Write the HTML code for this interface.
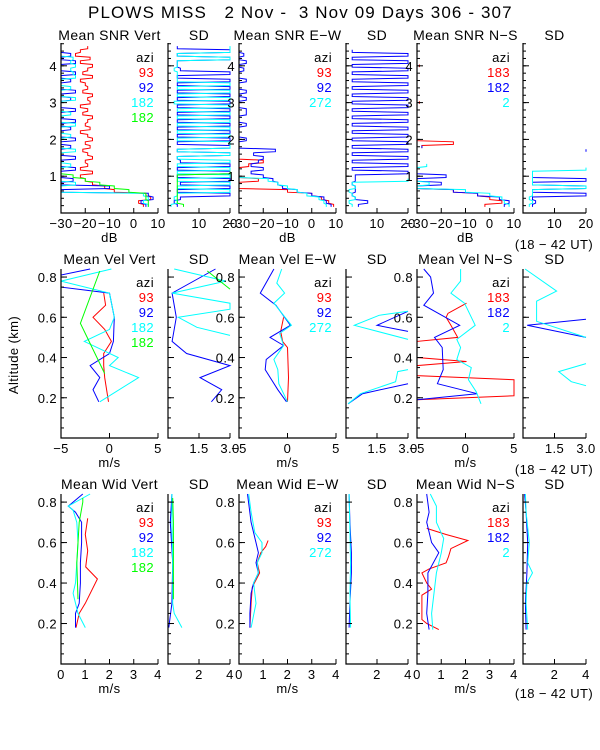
<!DOCTYPE html>
<html><head><meta charset="utf-8">
<style>
html,body{margin:0;padding:0;background:#fff;}
svg{display:block;font-family:"Liberation Sans",sans-serif;}
text{font-size:13px;fill:#000;letter-spacing:0.4px;}
</style></head>
<body>
<svg id="chart" width="600" height="750" viewBox="0 0 600 750">
<text x="88" y="18" textLength="424" lengthAdjust="spacing" style="font-size:17px;white-space:pre" xml:space="preserve">PLOWS MISS   2 Nov -  3 Nov 09 Days 306 - 307</text>
<text x="0" y="0" transform="translate(18,355) rotate(-90)" text-anchor="middle">Altitude (km)</text>
</svg>
<script>
// ---------- Row 1 : SNR (binned profiles, heights 0.2..4.5 step 0.1) ----------
const snrHeights = [0.2,0.3,0.4,0.5,0.6,0.7,0.8,0.9,1.0,1.1,1.2,1.3,1.4,1.5,1.6,1.7,1.8,1.9,2.0,2.1,2.2,2.3,2.4,2.5,2.6,2.7,2.8,2.9,3.0,3.1,3.2,3.3,3.4,3.5,3.6,3.7,3.8,3.9,4.0,4.1,4.2,4.3,4.4,4.5];
const snrVertRed  = [4,2,7,5,-8,-12,-17,-20,-22,-17,-22,-19,-20,-17,-19,-21,-18,-20,-17,-19,-22,-18,-20,-19,-17,-21,-19,-22,-18,-19,-17,-21,-19,-20,-22,-17,-21,-19,-17,-22,-18,-24,-22,-19];
const snrVertBlue = [5,3,8,6,-30,-10,-30,-25,-30,-30,-24,-30,-30,-24,-30,-30,-26,-30,-24,-30,-30,-26,-30,-24,-30,-30,-24,-30,-30,-26,-30,-24,-30,-30,-26,-30,-24,-30,-30,-24,-30,-26,-30,-30];
const snrVertCyan = [6,4,6,4,-30,-30,-24,-30,-30,-30,-30,-26,-30,-30,-30,-24,-30,-30,-30,-26,-30,-30,-24,-30,-30,-26,-30,-30,-30,-24,-30,-30,-26,-30,-30,-24,-25,-26,-24,-26,-25,-30,-30,-30];
const snrVertGreen= [6,6,5,5,-2,-8,-14,-20,-25,-30,null,null,null,null,null,null,null,null,null,null,null,null,null,null,null,null,null,null,null,null,null,null,null,null,null,null,null,null,null,null,null,null,null,null];
const sdVertRed   = [0,0,0,0,0,0,0,0,0,0,0,0,0,0,0,0,0,0,0,0,0,0,0,0,0,0,0,0,0,0,0,0,0,0,0,0,0,0,0,0,0,0,0,0];
const sdVertBlue  = [3,2,4,20,3,20,4,20,3,20,3,20,4,3,20,3,20,3,20,3,20,3,20,3,20,3,20,3,20,3,20,3,20,3,20,3,20,4,3,3,20,3,20,3];
const sdVertCyan  = [1,3,2,3,20,3,20,3,20,3,20,3,20,3,20,3,20,20,3,20,3,20,3,20,3,20,3,20,2,20,3,20,3,20,3,3,3,2,3,3,20,3,20,20];
const sdVertGreen = [5,3,3,3,3,3,3,3,3,20,null,null,null,null,null,null,null,null,null,null,null,null,null,null,null,null,null,null,null,null,null,null,null,null,null,null,null,null,null,null,null,null,null,null];
const snrEwRed    = [9,7,4,0,-10,-30,-30,-22,-30,-30,-30,-26,-20,-30,null,null,null,null,null,null,null,null,null,null,null,null,null,null,null,null,null,null,null,null,null,null,null,null,null,null,null,null,null,null];
const snrEwBlue   = [8,6,5,0,-6,-12,-14,-16,-20,-25,-20,-25,-22,-20,-24,-15,-30,-30,-27,-30,-30,-30,-27,-30,-30,-27,-27,-30,-30,-27,-30,-27,-30,-30,-27,-30,-30,-28,-30,-27,-30,-28,-30,null];
const snrEwCyan   = [6,5,3,-2,-6,-10,-14,-18,-30,null,null,null,null,null,null,null,null,null,null,null,null,null,null,null,null,null,null,null,null,null,null,null,null,null,null,null,null,null,null,null,null,null,null,null];
const sdEwRed     = [0,0,0,0,0,0,0,0,0,0,0,0,0,0,0,0,0,0,0,0,0,0,0,0,0,0,0,0,0,0,0,0,0,0,0,0,0,0,0,0,0,0,0,null];
const sdEwBlue    = [4,7,3,2,3,3,2,3,3,20,2,20,2,20,2,20,2,20,2,20,2,20,2,20,2,20,2,20,2,20,2,20,2,20,2,20,2,20,2,20,2,20,2,null];
const sdEwCyan    = [2,1,3,2,1,3,2,20,null,null,null,null,null,null,null,null,null,null,null,null,null,null,null,null,null,null,null,null,null,null,null,null,null,null,null,null,null,null,null,null,null,null,null,null];
const snrNsRed    = [-2,5,0,-5,-15,-30,-30,-30,-30,-30,null,null,null,null,null,null,-28,-15,-30,null,null,null,null,null,null,null,null,null,-29,null,null,null,null,null,null,null,null,null,-29,null,null,null,null,null];
const snrNsBlue   = [6,8,4,-5,-15,-30,-20,-30,-18,-30,null,null,null,null,null,null,-28,null,null,null,null,null,null,null,null,null,null,null,null,null,null,null,null,null,null,null,null,null,null,null,null,null,null,null];
const snrNsCyan   = [8,6,5,0,-10,-30,-25,-30,-30,-30,-30,-26,null,null,null,null,null,null,null,null,null,null,null,null,null,null,null,null,null,null,null,null,null,null,null,null,null,null,null,null,null,null,null,null];
const sdNsRed     = [0,0,0,0,0,0,0,0,0,0,0,0,0,0,0,0,0,0,0,0,0,0,0,0,0,0,0,0,0,0,0,0,0,0,0,0,0,0,0,0,0,0,null,null];
const sdNsBlue    = [3,4,3,20,3,20,3,20,3,null,null,null,null,null,null,20,null,null,null,null,null,null,null,null,null,null,null,null,null,null,null,null,null,null,null,null,null,null,null,null,null,null,null,null];
const sdNsCyan    = [2,3,2,3,3,20,3,3,3,3,20,null,null,null,null,null,null,null,null,null,null,null,null,null,null,null,null,null,null,null,null,null,null,null,null,null,null,null,null,null,null,null,null,null];

// ---------- Row 2 : Mean velocity ----------
const velVertRedH  = [0.18,0.24,0.30,0.36,0.42,0.48,0.54,0.60,0.66,0.72];
const velVertRedV  = [-0.1,-0.3,-0.5,-0.6,-0.6,0.2,-0.5,-1.7,-0.4,-0.6];
const velVertBlueH = [0.18,0.24,0.30,0.36,0.42,0.48,0.60,0.72,0.75,0.81,0.84];
const velVertBlueV = [-1.1,-1.7,-1.0,-2.0,0,0.4,0.5,0,-5,-5,-2];
const velVertCyanH = [0.18,0.30,0.36,0.40,0.48,0.54,0.60,0.72,0.78,0.84];
const velVertCyanV = [-1.0,3,0,0.9,-2.6,0,0.5,0,-5,0.2];
const velVertGreenH= [0.32,0.57,0.83];
const velVertGreenV= [-0.5,-3,-1];
const sdVelVertRedH = [0.18,0.72];
const sdVelVertRedV = [0,0];
const sdVelVertBlueH= [0.18,0.24,0.30,0.36,0.42,0.48,0.60,0.72,0.84];
const sdVelVertBlueV= [2.1,2.6,1.55,3,0.9,0.2,0.4,0.2,2.3];
const sdVelVertCyanH= [0.51,0.55,0.60,0.64,0.67,0.72,0.78,0.84];
const sdVelVertCyanV= [3,1.4,0.5,3,3,0.2,2.8,0.3];
const sdVelVertGreenH=[0.74,0.83];
const sdVelVertGreenV=[3,1.9];
const velEwRedH  = [0.18,0.30,0.45,0.48,0.53,0.60];
const velEwRedV  = [0,0.1,0,-0.5,-0.7,-0.4];
const velEwBlueH = [0.18,0.24,0.34,0.39,0.46,0.50,0.56,0.66,0.72,0.84];
const velEwBlueV = [-0.1,-1,-2.3,-2.2,-0.4,-1.8,0.3,-1.2,-2.8,-1.4];
const velEwCyanH = [0.18,0.27,0.34,0.39,0.46,0.52,0.56,0.67,0.72,0.77,0.84];
const velEwCyanV = [0,-0.9,-1,-1.4,-0.4,-0.8,0.4,-1.4,-0.3,-1.1,-0.6];
const sdVelEwRedH  = [0.18,0.61];
const sdVelEwRedV  = [0,0];
const sdVelEwBlueH = [0.17,0.22,0.27,null,0.53,0.56,0.63];
const sdVelEwBlueV = [0.1,0.8,3,null,3,1.5,3];
const sdVelEwCyanH = [0.17,0.22,0.28,0.33,0.34,null,0.49,0.56,0.61,0.63];
const sdVelEwCyanV = [0.1,0.7,2.4,2.5,3,null,3,0.4,1.6,3];
const velNsRedH  = [0.19,0.21,0.29,0.31,0.36,0.38,0.40,0.48,0.50,0.56,0.60,0.62,0.67];
const velNsRedV  = [-5,5,5,-5,-5,0.1,-5,-5,-0.8,-1.5,-2,-1.8,0.1];
const velNsBlueH = [0.19,0.22,0.27,0.34,0.45,0.50,0.56,0.66,0.72,0.80,0.84];
const velNsBlueV = [-5,1.2,-2.9,-2.3,-2.4,-3.2,-0.6,-4.3,-3.3,-3.6,-4.3];
const velNsCyanH = [0.17,0.23,0.29,0.35,0.39,0.45,0.49,0.56,0.67,0.72,0.78,0.84];
const velNsCyanV = [1.6,1.1,0.3,0.6,-0.9,-0.5,-0.9,1,-0.1,-1.5,-0.5,-0.5];
const sdVelNsRedH  = [0.17,0.67];
const sdVelNsRedV  = [0,0];
const sdVelNsBlueH = [0.50,0.56,0.59];
const sdVelNsBlueV = [3,0.2,3];
const sdVelNsCyanH = [0.26,0.28,0.33,0.37,null,0.50,0.58,0.68,0.73,0.84];
const sdVelNsCyanV = [3,2.3,1.7,3,null,3,0.65,0.65,1.6,0.1];

// ---------- Row 3 : Mean width ----------
const widVertRedH  = [0.18,0.25,0.30,0.42,0.48,0.56,0.64,0.72];
const widVertRedV  = [0.62,0.75,1.0,1.5,1.02,1.1,1.0,1.1];
const widVertBlueH = [0.18,0.25,0.30,0.40,0.50,0.60,0.70,0.75,0.78,0.84];
const widVertBlueV = [0.6,0.6,0.75,0.8,0.8,0.85,0.85,0.6,0.3,0.9];
const widVertCyanH = [0.18,0.25,0.30,0.35,0.40,0.50,0.60,0.70,0.76,0.78,0.84];
const widVertCyanV = [1.0,0.7,0.6,0.5,0.6,0.65,0.7,0.65,0.5,0.3,1.2];
const widVertGreenH= [0.32,0.50,0.60,0.70,0.80,0.82];
const widVertGreenV= [0.7,0.65,0.7,0.75,0.9,0.9];
const sdWidVertRedH  = [0.18,0.72];
const sdWidVertRedV  = [0,0];
const sdWidVertBlueH = [0.18,0.30,0.50,0.70,0.84];
const sdWidVertBlueV = [0.05,0.25,0.3,0.15,0.25];
const sdWidVertCyanH = [0.18,0.25,0.30,0.50,0.70,0.84];
const sdWidVertCyanV = [0.9,0.4,0.3,0.3,0.25,0.25];
const sdWidVertGreenH= [0.32,0.70,0.82];
const sdWidVertGreenV= [0.35,0.35,0.3];
const widEwRedH  = [0.18,0.30,0.38,0.45,0.50,0.55,0.58,0.61];
const widEwRedV  = [0.45,0.5,0.55,0.85,0.75,0.9,1.1,1.2];
const widEwBlueH = [0.18,0.25,0.35,0.40,0.45,0.50,0.55,0.60,0.70,0.84];
const widEwBlueV = [0.45,0.45,0.5,0.6,0.8,0.7,0.8,0.7,0.5,0.35];
const widEwCyanH = [0.18,0.30,0.40,0.45,0.50,0.55,0.60,0.65,0.75,0.84];
const widEwCyanV = [0.5,0.7,0.6,0.8,0.75,0.95,0.95,0.65,0.5,0.4];
const sdWidEwRedH  = [0.18,0.61];
const sdWidEwRedV  = [0,0];
const sdWidEwBlueH = [0.18,0.30,0.45,0.55,0.70,0.84];
const sdWidEwBlueV = [0.2,0.25,0.35,0.35,0.25,0.2];
const sdWidEwCyanH = [0.18,0.35,0.50,0.65,0.84];
const sdWidEwCyanV = [0.3,0.25,0.3,0.25,0.2];
const widNsRedH  = [0.17,0.20,0.22,0.34,0.37,0.40,0.45,0.47,0.50,0.53,0.57,0.61,0.64,0.67];
const widNsRedV  = [0.9,0.4,0.2,0.2,0.6,0.4,0.2,0.5,1.2,1.3,1.4,2.1,1.2,0.4];
const widNsBlueH = [0.17,0.25,0.35,0.45,0.55,0.60,0.70,0.75,0.84];
const widNsBlueV = [0.5,0.4,0.45,0.45,0.9,0.6,0.4,0.5,0.4];
const widNsCyanH = [0.17,0.25,0.35,0.45,0.55,0.62,0.70,0.78,0.84];
const widNsCyanV = [0.65,0.6,0.7,0.8,1.0,1.1,0.8,0.8,0.55];
const sdWidNsRedH  = [0.17,0.67];
const sdWidNsRedV  = [0,0];
const sdWidNsBlueH = [0.17,0.30,0.45,0.60,0.75,0.84];
const sdWidNsBlueV = [0.2,0.15,0.25,0.3,0.2,0.1];
const sdWidNsCyanH = [0.17,0.30,0.40,0.45,0.50,0.60,0.75,0.84];
const sdWidNsCyanV = [0.3,0.2,0.25,0.6,0.3,0.4,0.2,0.15];

// tick labels
const snrTicks = [-30,-20,-10,0,10];
const snrTickLabels = ["\u221230","\u221220","\u221210","0","10"];
const sdSnrTicks = [10,20];
const velTicks = [-5,0,5];
const velTickLabels = ["\u22125","0","5"];
const sdVelTicks = [1.5,3.0];
const sdVelTickLabels = ["1.5","3.0"];
const widTicks = [0,1,2,3,4];
const sdWidTicks = [2,4];
const row1YTicks = [1,2,3,4];
const row23YTicks = [0.2,0.4,0.6,0.8];
const legendVert = ["93","92","182","182"];
const legendEw = ["93","92","272"];
const legendNs = ["183","182","2"];

const NS = "http://www.w3.org/2000/svg";
const svg = document.getElementById('chart');
const RED="#ff0000", BLUE="#0000ff", CYAN="#00ffff", GREEN="#00ff00";
const COLS = {vert:[61,158], sdv:[168,230], ew:[239,336], sde:[346,408], ns:[417,514], sdn:[523,586]};
const ROWS = [{top:43,bot:213,ymax:4.62,title:40,leg:62,xl:242,ut:249},{top:269,bot:438,ymax:0.84,title:264,leg:287,xl:467,ut:474},{top:494,bot:664,ymax:0.84,title:489,leg:512,xl:693,ut:698}];

function el(tag, attrs, txt){ const e=document.createElementNS(NS,tag); for(const k in attrs) e.setAttribute(k,attrs[k]); if(txt!==undefined) e.textContent=txt; svg.appendChild(e); return e; }
function mkX(col,min,max){ const [a,b]=COLS[col]; return v=>a+(v-min)/(max-min)*(b-a); }
function mkY(r){ const R=ROWS[r]; return h=>R.bot-h/R.ymax*(R.bot-R.top); }

function drawLine(pts,color,name){
  let d="", pen=false;
  for(const p of pts){ if(p===null){pen=false;continue;} d+=(pen?"L":"M")+p[0].toFixed(1)+" "+p[1].toFixed(1)+" "; pen=true; }
  const e=el('path',{d:d,fill:'none',stroke:color,'stroke-width':1});
  
  
}
function binnedSeries(vals,hs,X,Y,color,name){
  const pts=[];
  for(let i=0;i<vals.length;i++){ const v=vals[i]; if(v===null){pts.push(null);continue;} pts.push([X(v),Y(hs[i]-0.035)]); pts.push([X(v),Y(hs[i]+0.035)]); }
  drawLine(pts,color,name);
}
function series(hs,vals,X,Y,color,name){
  const pts=[];
  for(let i=0;i<vals.length;i++){ if(vals[i]===null||hs[i]===null){pts.push(null);continue;} pts.push([X(vals[i]),Y(hs[i])]); }
  drawLine(pts,color,name);
}
function axes(col,r,xt,xl,ylab,yticks,minorStep,X,Y,name){
  const [a,b]=COLS[col]; const R=ROWS[r];
  const ax=el('path',{d:`M${a} ${R.top}V${R.bot}H${b}`,fill:'none',stroke:'#000','stroke-width':1.2});
  
  
  xt.forEach((t,i)=>{ const x=X(t); el('line',{x1:x,x2:x,y1:R.bot,y2:R.bot-5,stroke:'#000'});
    const tx=el('text',{x:x,y:R.bot+15,'text-anchor':'middle'},xl[i]);
    
    
  });
  for(let h=minorStep;h<R.ymax;h+=minorStep){ const y=Y(h); el('line',{x1:a,x2:a+3,y1:y,y2:y,stroke:'#000'}); }
  yticks.forEach(t=>{ const y=Y(t); el('line',{x1:a,x2:a+6,y1:y,y2:y,stroke:'#000'});
    if(ylab){ const tx=el('text',{x:a-4,y:y+5,'text-anchor':'end'},String(t));   }
  });
}
function title(col,r,txt,name){ const [a,b]=COLS[col]; const t=el('text',{x:(a+b)/2,y:ROWS[r].title,'text-anchor':'middle',style:'font-size:14px'},txt);   }
function legend(col,r,labels,colors){ const b=COLS[col][1]-4; const y0=ROWS[r].leg;
  const t=el('text',{x:b,y:y0,'text-anchor':'end'},'azi');  
  labels.forEach((l,i)=>{ const e=el('text',{x:b,y:y0+15*(i+1),'text-anchor':'end',style:'fill:'+colors[i]},l);   });
}
function xlabel(col,r,txt){ const [a,b]=COLS[col]; const t=el('text',{x:(a+b)/2,y:ROWS[r].xl,'text-anchor':'middle'},txt);   }
function ut(r){ const t=el('text',{x:554,y:ROWS[r].ut,'text-anchor':'middle',style:'white-space:pre'},'(18 \u2212 42 UT)');   }

// ===== Row 1 =====
{
 const Y=mkY(0);
 const panels=[
  ['vert','Mean SNR Vert',[[snrVertRed,RED],[snrVertBlue,BLUE],[snrVertCyan,CYAN],[snrVertGreen,GREEN]],legendVert],
  ['ew','Mean SNR E\u2212W',[[snrEwRed,RED],[snrEwBlue,BLUE],[snrEwCyan,CYAN]],legendEw],
  ['ns','Mean SNR N\u2212S',[[snrNsRed,RED],[snrNsBlue,BLUE],[snrNsCyan,CYAN]],legendNs]];
 const sds={vert:['sdv',[[sdVertRed,RED],[sdVertBlue,BLUE],[sdVertCyan,CYAN],[sdVertGreen,GREEN]]],ew:['sde',[[sdEwRed,RED],[sdEwBlue,BLUE],[sdEwCyan,CYAN]]],ns:['sdn',[[sdNsRed,RED],[sdNsBlue,BLUE],[sdNsCyan,CYAN]]]};
 panels.forEach(([c,t,ser,leg])=>{
  const X=mkX(c,-30,10);
  ser.forEach(([v,col])=>binnedSeries(v,snrHeights,X,Y,col,'snr-'+c+'-line'));
  axes(c,0,snrTicks,snrTickLabels,true,row1YTicks,0.2,X,Y,'snr-'+c);
  title(c,0,t,'snr-'+c+'-title'); legend(c,0,leg,[RED,BLUE,CYAN,GREEN]); xlabel(c,0,'dB');
  const [sc,sser]=sds[c]; const SX=mkX(sc,0,20);
  sser.forEach(([v,col])=>binnedSeries(v,snrHeights,SX,Y,col,'snr-sd-'+c+'-line'));
  axes(sc,0,sdSnrTicks,sdSnrTicks.map(String),false,row1YTicks,0.2,SX,Y,'snr-sd-'+c);
  title(sc,0,'SD','snr-sd-'+c+'-title');
 });
 ut(0);
}
// ===== Rows 2,3 =====
function profileRow(r,kind,mainMin,mainMax,ticks,tickLabels,sdMax,sdTicks,sdTickLabels,defs){
 const Y=mkY(r);
 defs.forEach(([c,sc,t,ser,sdser,leg])=>{
  const X=mkX(c,mainMin,mainMax);
  ser.forEach(([h,v,col])=>series(h,v,X,Y,col,kind+'-'+c+'-line'));
  axes(c,r,ticks,tickLabels,true,row23YTicks,0.05,X,Y,kind+'-'+c);
  title(c,r,t,kind+'-'+c+'-title'); legend(c,r,leg,[RED,BLUE,CYAN,GREEN]); xlabel(c,r,'m/s');
  const SX=mkX(sc,0,sdMax);
  sdser.forEach(([h,v,col])=>series(h,v,SX,Y,col,kind+'-sd-'+c+'-line'));
  axes(sc,r,sdTicks,sdTickLabels,false,row23YTicks,0.05,SX,Y,kind+'-sd-'+c);
  title(sc,r,'SD',kind+'-sd-'+c+'-title');
 });
 ut(r);
}
profileRow(1,'vel',-5,5,velTicks,velTickLabels,3,sdVelTicks,sdVelTickLabels,[
 ['vert','sdv','Mean Vel Vert',[[velVertRedH,velVertRedV,RED],[velVertBlueH,velVertBlueV,BLUE],[velVertCyanH,velVertCyanV,CYAN],[velVertGreenH,velVertGreenV,GREEN]],
   [[sdVelVertRedH,sdVelVertRedV,RED],[sdVelVertBlueH,sdVelVertBlueV,BLUE],[sdVelVertCyanH,sdVelVertCyanV,CYAN],[sdVelVertGreenH,sdVelVertGreenV,GREEN]],legendVert],
 ['ew','sde','Mean Vel E\u2212W',[[velEwRedH,velEwRedV,RED],[velEwBlueH,velEwBlueV,BLUE],[velEwCyanH,velEwCyanV,CYAN]],
   [[sdVelEwRedH,sdVelEwRedV,RED],[sdVelEwBlueH,sdVelEwBlueV,BLUE],[sdVelEwCyanH,sdVelEwCyanV,CYAN]],legendEw],
 ['ns','sdn','Mean Vel N\u2212S',[[velNsRedH,velNsRedV,RED],[velNsBlueH,velNsBlueV,BLUE],[velNsCyanH,velNsCyanV,CYAN]],
   [[sdVelNsRedH,sdVelNsRedV,RED],[sdVelNsBlueH,sdVelNsBlueV,BLUE],[sdVelNsCyanH,sdVelNsCyanV,CYAN]],legendNs]]);
profileRow(2,'wid',0,4,widTicks,widTicks.map(String),4,sdWidTicks,sdWidTicks.map(String),[
 ['vert','sdv','Mean Wid Vert',[[widVertRedH,widVertRedV,RED],[widVertBlueH,widVertBlueV,BLUE],[widVertCyanH,widVertCyanV,CYAN],[widVertGreenH,widVertGreenV,GREEN]],
   [[sdWidVertRedH,sdWidVertRedV,RED],[sdWidVertBlueH,sdWidVertBlueV,BLUE],[sdWidVertCyanH,sdWidVertCyanV,CYAN],[sdWidVertGreenH,sdWidVertGreenV,GREEN]],legendVert],
 ['ew','sde','Mean Wid E\u2212W',[[widEwRedH,widEwRedV,RED],[widEwBlueH,widEwBlueV,BLUE],[widEwCyanH,widEwCyanV,CYAN]],
   [[sdWidEwRedH,sdWidEwRedV,RED],[sdWidEwBlueH,sdWidEwBlueV,BLUE],[sdWidEwCyanH,sdWidEwCyanV,CYAN]],legendEw],
 ['ns','sdn','Mean Wid N\u2212S',[[widNsRedH,widNsRedV,RED],[widNsBlueH,widNsBlueV,BLUE],[widNsCyanH,widNsCyanV,CYAN]],
   [[sdWidNsRedH,sdWidNsRedV,RED],[sdWidNsBlueH,sdWidNsBlueV,BLUE],[sdWidNsCyanH,sdWidNsCyanV,CYAN]],legendNs]]);
</script>
</body></html>
